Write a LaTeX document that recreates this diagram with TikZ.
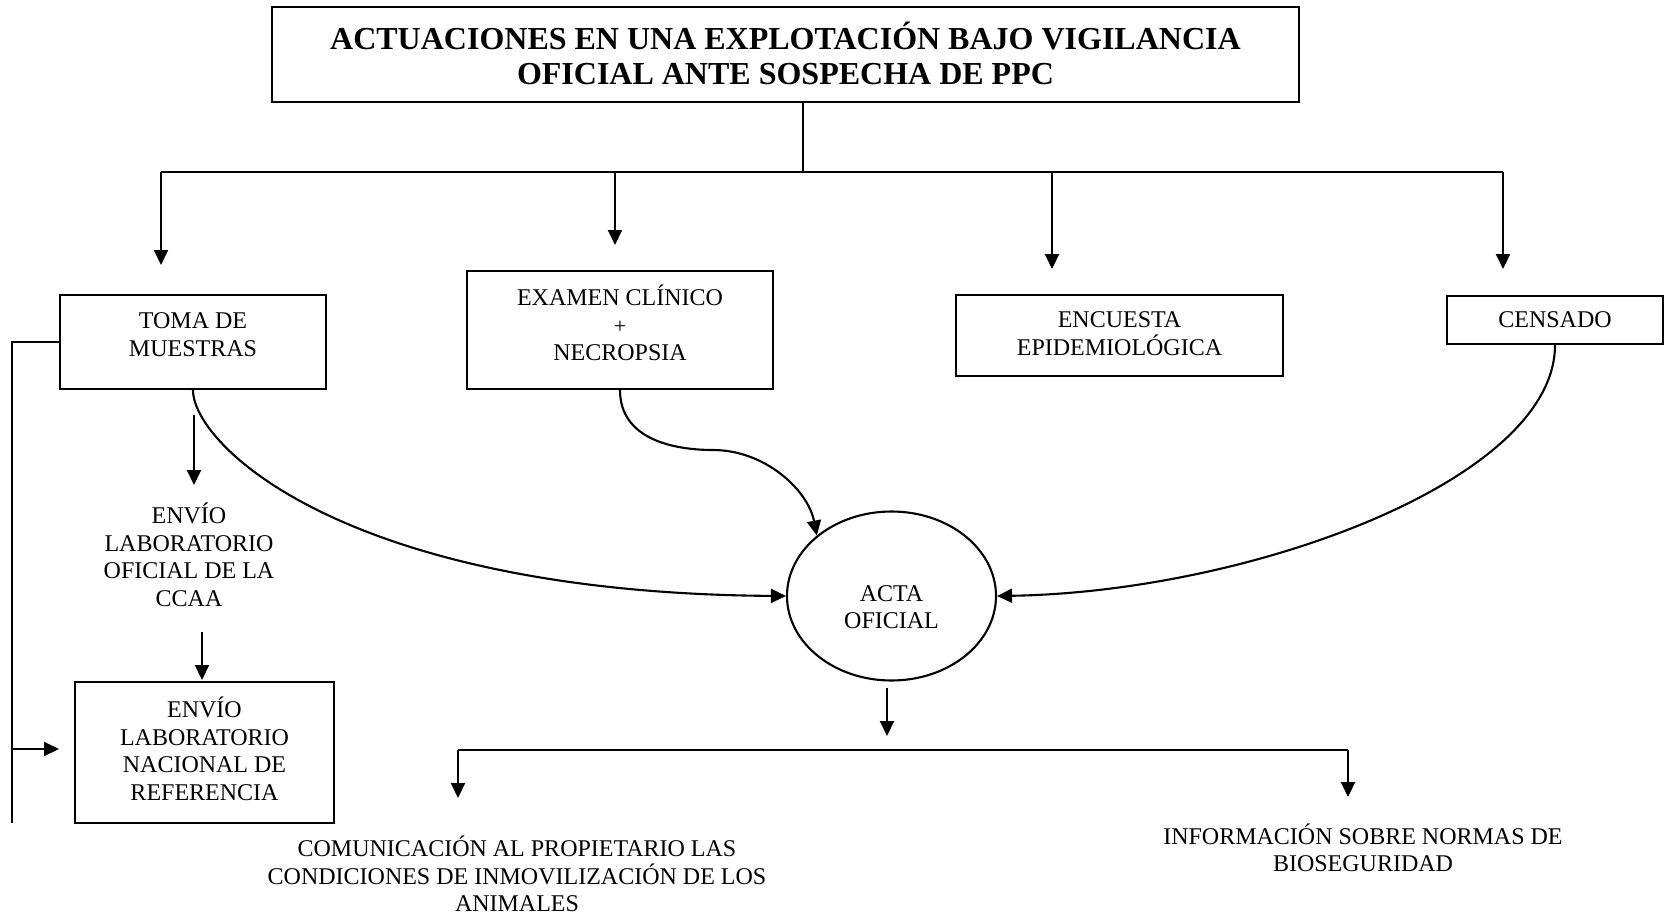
\documentclass[tikz,border=0pt]{standalone}
\usepackage{fontspec}
\setmainfont{Liberation Serif}
\usetikzlibrary{arrows.meta,shapes.geometric}
\begin{document}
\begin{tikzpicture}[x=1pt,y=-1pt,line width=2.1pt,
  arr/.style={-{Triangle[length=15pt,width=14pt]}},
  box/.style={draw,rectangle,inner sep=0pt},
  txt/.style={align=center,inner sep=0pt,font=\fontsize{24}{27.5}\selectfont},
  ttl/.style={align=center,inner sep=0pt,font=\bfseries\fontsize{32}{35}\selectfont},
]
\useasboundingbox (0,0) rectangle (1668,915);

% boxes
\node[box,minimum width=1027,minimum height=95] (title) at (785.5,54.5) {};
\node[ttl] (titletxt) at (785.5,53.5) {ACTUACIONES EN UNA EXPLOTACIÓN BAJO VIGILANCIA\\OFICIAL ANTE SOSPECHA DE PPC};

\node[box,minimum width=266,minimum height=94] (toma) at (193,342) {};
\node[txt] (tomatxt) at (193,334.5) {TOMA DE\\MUESTRAS};

\node[box,minimum width=306,minimum height=118] (exam) at (620,330) {};
\node[txt] (examtxt) at (620,323) {EXAMEN CLÍNICO\\{\fontsize{22}{27.5}\selectfont +}\\NECROPSIA};

\node[box,minimum width=327,minimum height=81] (enc) at (1119.5,335.5) {};
\node[txt] (enctxt) at (1119.5,333.5) {ENCUESTA\\EPIDEMIOLÓGICA};

\node[box,minimum width=216,minimum height=48] (cens) at (1555,320) {};
\node[txt] (censtxt) at (1555,320) {CENSADO};

\node[txt] (ccaa) at (189,555) {ENVÍO\\LABORATORIO\\OFICIAL DE LA\\CCAA};

\node[box,minimum width=259,minimum height=141] (nac) at (204.5,752.5) {};
\node[txt] (nactxt) at (204.5,749) {ENVÍO\\LABORATORIO\\NACIONAL DE\\REFERENCIA};

\node[draw,ellipse,inner sep=0pt,minimum width=209,minimum height=169] (acta) at (891.5,596) {};
\node[txt] (actatxt) at (891.5,607) {ACTA\\OFICIAL};

\node[txt] (com) at (517,874) {COMUNICACIÓN AL PROPIETARIO LAS\\CONDICIONES DE INMOVILIZACIÓN DE LOS\\ANIMALES};
\node[txt] (inf) at (1363,848) {INFORMACIÓN SOBRE NORMAS DE\\BIOSEGURIDAD};

% coordinates
\coordinate (bus) at (803,172);
\coordinate (bL) at (161,172);
\coordinate (bR) at (1503,172);
\coordinate (b2) at (615,172);
\coordinate (b3) at (1052,172);
\coordinate (t1) at (161,265);
\coordinate (t2) at (615,245);
\coordinate (t3) at (1052,269);
\coordinate (t4) at (1503,269);

\coordinate (s1) at (194,415);
\coordinate (e1) at (194,485);
\coordinate (s2) at (202,632);
\coordinate (e2) at (202,680);
\coordinate (lt) at (12,342);
\coordinate (lb) at (12,823);
\coordinate (lm) at (12,749);
\coordinate (le) at (59,749);

\coordinate (a1) at (887,688);
\coordinate (a2) at (887,736);
\coordinate (cL) at (458,750);
\coordinate (cR) at (1348,750);
\coordinate (cLe) at (458,798);
\coordinate (cRe) at (1348,797);
\coordinate (mid) at (713,450);

% connectors
\draw (title.south -| bus) -- (bus);
\draw (bL) -- (bR);
\draw[arr] (bL) -- (t1);
\draw[arr] (b2) -- (t2);
\draw[arr] (b3) -- (t3);
\draw[arr] (bR) -- (t4);

\draw[arr] (s1) -- (e1);
\draw[arr] (s2) -- (e2);
\draw (toma.west) -- (lt) -- (lb);
\draw[arr] (lm) -- (le);

\draw[arr] (toma.south) .. controls (193,445) and (345,593) .. (acta.west);
\draw[arr] (exam.south) .. controls (620,440) and (675,450) .. (mid) .. controls (765,450) and (808,490) .. (acta.141);
\draw[arr] (cens.south) .. controls (1555,480) and (1250,592) .. (acta.east);

\draw[arr] (a1) -- (a2);
\draw (cL) -- (cR);
\draw[arr] (cL) -- (cLe);
\draw[arr] (cR) -- (cRe);
\end{tikzpicture}
\end{document}
